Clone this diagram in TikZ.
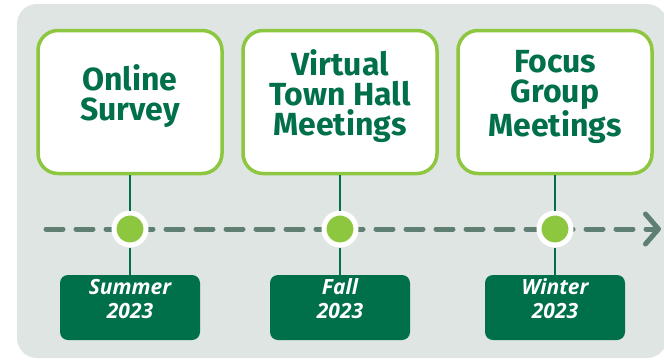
\documentclass[tikz,border=0pt]{standalone}
\usepackage{fontspec}
\newfontfamily\headfont{Fira Sans}
\newfontfamily\datefont{Open Sans}
\usetikzlibrary{shapes, arrows.meta}

\definecolor{darkgreen}{HTML}{00704A}
\definecolor{lightgreen}{HTML}{8DC63F}
\definecolor{timeline}{HTML}{5F7F73}
\definecolor{panel}{HTML}{DFE5E2}

\begin{document}
\begin{tikzpicture}[x=1pt, y=-1pt, >={Straight Barb[length=13pt, width=30pt, round]}]

\tikzstyle{stage} = [draw=lightgreen, fill=white, shape=rectangle, line width=3.5pt, rounded corners=20pt, minimum width=194pt, minimum height=143pt, text=darkgreen, align=center, text depth=18pt, font=\headfont\bfseries\fontsize{32}{30}\selectfont]
\tikzstyle{season} = [fill=darkgreen, shape=rectangle, rounded corners=8pt, minimum width=140pt, minimum height=65pt, text=white, align=center, text depth=17pt, font=\datefont\bfseries\itshape\fontsize{21}{24}\selectfont]
\tikzstyle{dot} = [shape=circle, fill=lightgreen, draw=white, line width=5pt, minimum size=32pt, inner sep=0pt]
\tikzstyle{link} = [darkgreen, line width=2.2pt]

\useasboundingbox (0,0) rectangle (664,360);
\fill[panel, rounded corners=20pt] (17,4) rectangle (667,358);

\coordinate (start) at (46,229);
\coordinate (end) at (661,229);
\draw[->, timeline, line width=5pt, line cap=round, dash pattern=on 17pt off 13pt] (start) -- (end);

\node[stage, minimum width=184pt] at (130,102) (survey) {Online\\Survey};
\node[stage] at (340,102) (townhall) {Virtual\\Town Hall\\Meetings};
\node[stage] at (555,102) (focus) {Focus\\Group\\Meetings};

\node[dot] at (130,229) (dot1) {};
\node[dot] at (340,229) (dot2) {};
\node[dot] at (555,229) (dot3) {};

\node[season] at (130,307.5) (summer) {Summer\\2023};
\node[season] at (340,307.5) (fall) {Fall\\2023};
\node[season] at (555,307.5) (winter) {Winter\\2023};

\draw[link] (survey) -- (dot1);
\draw[link] (dot1) -- (summer);
\draw[link] (townhall) -- (dot2);
\draw[link] (dot2) -- (fall);
\draw[link] (focus) -- (dot3);
\draw[link] (dot3) -- (winter);
\end{tikzpicture}
\end{document}
